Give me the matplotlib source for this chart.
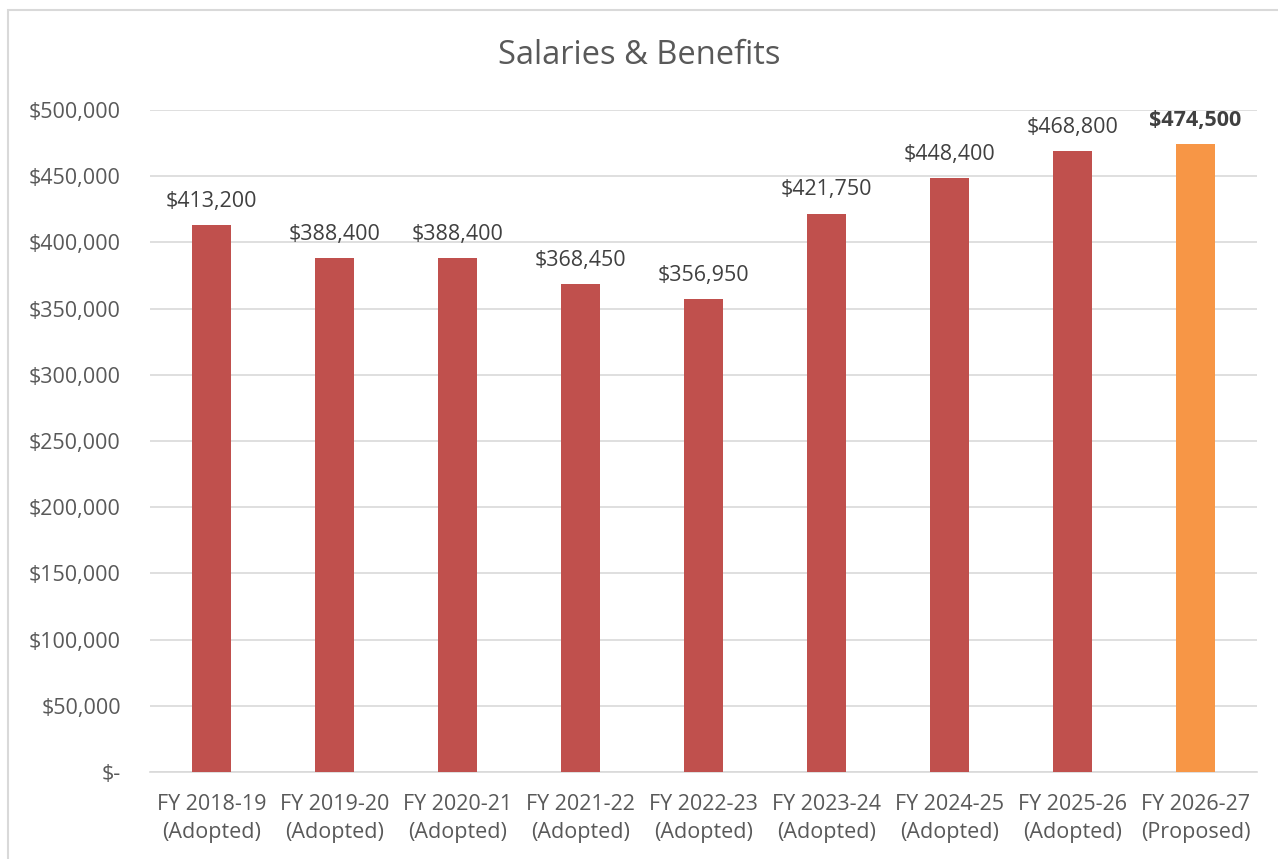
import matplotlib.pyplot as plt
from matplotlib.patches import Rectangle

plt.rcParams['font.family'] = ['Open Sans', 'DejaVu Sans']

categories = ['FY 2018-19\n(Adopted)', 'FY 2019-20\n(Adopted)', 'FY 2020-21\n(Adopted)',
              'FY 2021-22\n(Adopted)', 'FY 2022-23\n(Adopted)', 'FY 2023-24\n(Adopted)',
              'FY 2024-25\n(Adopted)', 'FY 2025-26\n(Adopted)', 'FY 2026-27\n(Proposed)']
values = [413200, 388400, 388400, 368450, 356950, 421750, 448400, 468800, 474500]
bar_colors = ['#C0504D'] * 8 + ['#F79646']
yticks = list(range(0, 500001, 50000))

txt = '#595959'
fig = plt.figure(figsize=(12.78, 8.59), dpi=100)
fig.patches.append(Rectangle((8/1278, -0.01), 1.0, 1 - 10/859 + 0.01, transform=fig.transFigure,
                             fill=False, edgecolor='#D9D9D9', linewidth=1.5))
ax = fig.add_axes([150/1278, 1 - 772/859, 1107/1278, 662/859])

x = range(len(values))
ax.bar(x, values, width=0.31, color=bar_colors, zorder=3)
ax.set_xlim(-0.5, len(values) - 0.5)
ax.set_ylim(0, 500000)
ax.set_yticks(yticks)
ax.set_yticklabels(['$-'] + ['${:,}'.format(v) for v in yticks[1:]])
ax.set_xticks(list(x))
ax.set_xticklabels(categories, linespacing=1.45)
ax.grid(axis='y', color='#D9D9D9', linewidth=1.2, zorder=0)
for s in ['top', 'right', 'left']:
    ax.spines[s].set_visible(False)
ax.spines['bottom'].set_color('#D9D9D9')
ax.spines['bottom'].set_linewidth(1.2)
ax.tick_params(axis='both', length=0, labelsize=15.5, colors=txt)
ax.tick_params(axis='y', pad=21)
ax.tick_params(axis='x', pad=16)

for i, v in enumerate(values):
    ax.text(i, v + 10000, '${:,}'.format(v), ha='center', va='bottom', fontsize=15.5,
            color='#404040', fontweight='bold' if i == len(values) - 1 else 'normal')

fig.text(0.5, 1 - 55/859, 'Salaries & Benefits', ha='center', va='center', fontsize=23.5, color=txt)

fig.savefig('out.png', dpi=100)
